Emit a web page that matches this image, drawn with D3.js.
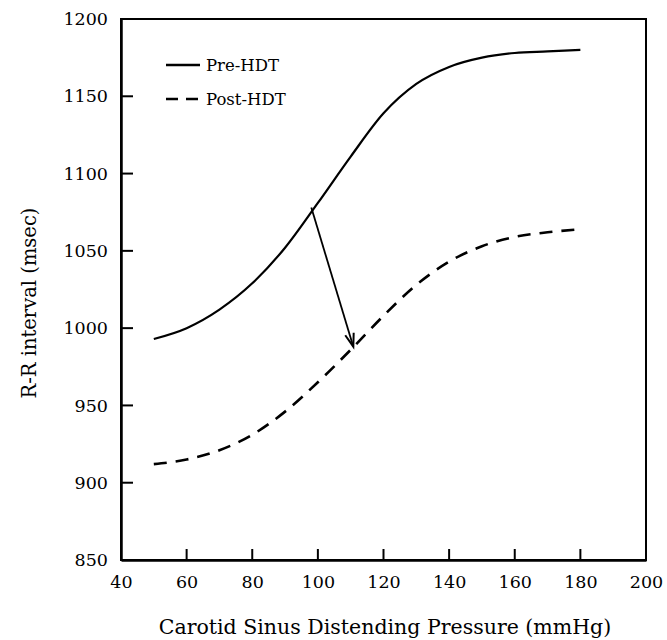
<!DOCTYPE html>
<html>
<head>
<meta charset="utf-8">
<script src="https://cdn.jsdelivr.net/npm/d3@7"></script>
<style>
  html, body { margin: 0; padding: 0; background: #fff; }
  svg { display: block; }
  text { font-family: "DejaVu Serif", "Liberation Serif", serif; fill: #000; }
</style>
</head>
<body>
<svg id="chart" width="667" height="640"></svg>
<script>
// ---- data ----
const pressure = [50, 60, 70, 80, 90, 100, 110, 120, 130, 140, 150, 160, 170, 180];
const preHDT  = [993, 1000, 1012, 1029, 1052, 1081, 1111, 1139, 1158, 1169, 1175, 1178, 1179, 1180];
const postHDT = [912, 915, 921, 931, 946, 965, 986, 1008, 1028, 1043, 1053, 1059, 1062, 1064];
const xTicks = [40, 60, 80, 100, 120, 140, 160, 180, 200];
const yTicks = [850, 900, 950, 1000, 1050, 1100, 1150, 1200];
const arrowFrom = [98, 1078];
const arrowTo = [110.8, 988];
const seriesNames = ["Pre-HDT", "Post-HDT"];

// ---- layout ----
const svg = d3.select("#chart");
const x = d3.scaleLinear().domain([40, 200]).range([121, 646]);
const y = d3.scaleLinear().domain([850, 1200]).range([560, 19]);

// frame
svg.append("rect")
  .attr("x", x(40)).attr("y", y(1200))
  .attr("width", x(200) - x(40)).attr("height", y(850) - y(1200))
  .attr("fill", "none").attr("stroke", "#000").attr("stroke-width", 2);

// axes
const xAxis = d3.axisBottom(x).tickValues(xTicks).tickSize(0).tickPadding(16)
  .tickFormat(d3.format("d"));
const gx = svg.append("g").attr("transform", `translate(0,${y(850)})`).call(xAxis);
gx.select(".domain").attr("stroke-width", 2.5);
gx.selectAll("text").style("font-size", "17.5px");

const yAxis = d3.axisLeft(y).tickValues(yTicks).tickSize(0).tickPadding(13)
  .tickFormat(d3.format("d"));
const gy = svg.append("g").attr("transform", `translate(${x(40)},0)`).call(yAxis);
gy.select(".domain").attr("stroke-width", 2.5);
gy.selectAll("text").style("font-size", "17.5px");

// inward ticks
svg.append("g").selectAll("line")
  .data(xTicks.filter(d => d > 40 && d < 200)).join("line")
  .attr("x1", d => x(d)).attr("x2", d => x(d))
  .attr("y1", y(850)).attr("y2", y(850) - 11)
  .attr("stroke", "#000").attr("stroke-width", 2);
svg.append("g").selectAll("line")
  .data(yTicks.filter(d => d > 850 && d < 1200)).join("line")
  .attr("x1", x(40)).attr("x2", x(40) + 12)
  .attr("y1", d => y(d)).attr("y2", d => y(d))
  .attr("stroke", "#000").attr("stroke-width", 2);

// curves
const line = d3.line().x(d => x(d[0])).y(d => y(d[1])).curve(d3.curveMonotoneX);
svg.append("path")
  .datum(pressure.map((p, i) => [p, preHDT[i]]))
  .attr("d", line).attr("fill", "none").attr("stroke", "#000").attr("stroke-width", 2.2);
svg.append("path")
  .datum(pressure.map((p, i) => [p, postHDT[i]]))
  .attr("d", line).attr("fill", "none").attr("stroke", "#000").attr("stroke-width", 2.6)
  .attr("stroke-dasharray", "13,9");

// arrow
const ax1 = x(arrowFrom[0]), ay1 = y(arrowFrom[1]);
const ax2 = x(arrowTo[0]), ay2 = y(arrowTo[1]);
svg.append("line")
  .attr("x1", ax1).attr("y1", ay1).attr("x2", ax2).attr("y2", ay2)
  .attr("stroke", "#000").attr("stroke-width", 1.8);
const ang = Math.atan2(ay2 - ay1, ax2 - ax1);
const hl = 14, ha = 0.32;
svg.append("path")
  .attr("d", `M${ax2 - hl * Math.cos(ang - ha)},${ay2 - hl * Math.sin(ang - ha)}L${ax2},${ay2}L${ax2 - hl * Math.cos(ang + ha)},${ay2 - hl * Math.sin(ang + ha)}`)
  .attr("fill", "none").attr("stroke", "#000").attr("stroke-width", 2);

// legend
const leg = svg.append("g");
seriesNames.forEach((name, i) => {
  const ly = 65 + i * 34;
  leg.append("line")
    .attr("x1", 166).attr("x2", 200).attr("y1", ly).attr("y2", ly)
    .attr("stroke", "#000").attr("stroke-width", 2.4)
    .attr("stroke-dasharray", i === 0 ? null : "12,8");
  leg.append("text").attr("x", 206).attr("y", ly + 6)
    .style("font-size", "16.5px").text(name);
});

// axis titles
svg.append("text")
  .attr("x", 385).attr("y", 634)
  .attr("text-anchor", "middle").style("font-size", "20.5px")
  .text("Carotid Sinus Distending Pressure (mmHg)");
svg.append("text")
  .attr("transform", `translate(36,303) rotate(-90)`)
  .attr("text-anchor", "middle").style("font-size", "19.5px")
  .text("R-R interval (msec)");
</script>
</body>
</html>
